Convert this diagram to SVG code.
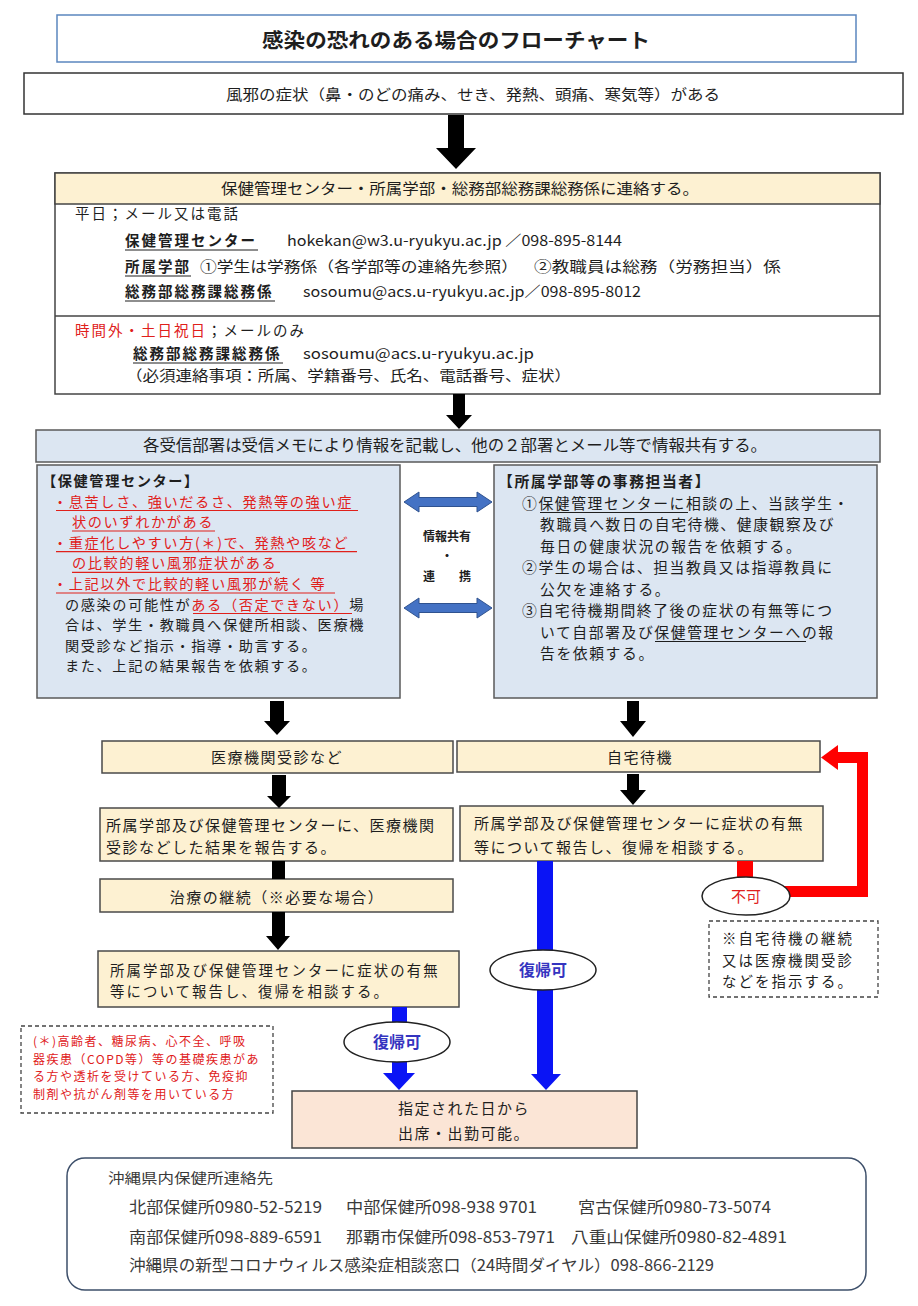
<svg xmlns="http://www.w3.org/2000/svg" width="918" height="1306" viewBox="0 0 918 1306">
<style>
text{font-family:"Noto Sans CJK JP","Noto Sans",sans-serif;fill:#1e1e1e}
.b{font-weight:bold}
.r{fill:#e0201b}
.tan{fill:#fdf1d2;stroke:#4a4a4a;stroke-width:1.5}
.blu{fill:#dce6f2;stroke:#5a5a5a;stroke-width:1.5}
.ul{stroke:#1e1e1e;stroke-width:1.2}
.ulr{stroke:#e0201b;stroke-width:1.2}
.blk{fill:#000}
.dbl{fill:#4472c4;stroke:#2f528f;stroke-width:1}
.bl{fill:#0a14f5}
.rd{fill:#ff0000}
.ell{fill:#fff;stroke:#222;stroke-width:1.5}
.dash{fill:#fff;stroke:#444;stroke-width:1.3;stroke-dasharray:4 3}
.c15{font-size:14.5px;letter-spacing:2px}
.f16{font-size:14.2px;letter-spacing:1.6px}
.f164{font-size:14.8px;letter-spacing:1.6px}
.f165{font-size:15px;letter-spacing:1.5px}
.f145{font-size:14.4px;letter-spacing:2.1px}
.bot{fill:#3a3a3a}
</style>

<g id="title">
<rect x="57" y="15" width="799" height="47" fill="#fff" stroke="#5b86bf" stroke-width="1.5"/>
<text x="456" y="48" text-anchor="middle" class="b" font-size="20" textLength="388" lengthAdjust="spacingAndGlyphs">感染の恐れのある場合のフローチャート</text>
</g>

<g id="symptoms">
<rect x="24" y="73" width="879" height="41" fill="#fff" stroke="#333" stroke-width="1.5"/>
<text x="226" y="100" font-size="14.5" textLength="494" lengthAdjust="spacingAndGlyphs">風邪の症状（鼻・のどの痛み、せき、発熱、頭痛、寒気等）がある</text>
</g>

<g id="contact">
<rect x="55" y="173" width="825" height="221" fill="#fff" stroke="#444" stroke-width="1.5"/>
<rect x="55" y="173" width="825" height="31" fill="#fdf1d2" stroke="#444" stroke-width="1.5"/>
<line x1="55" y1="316" x2="880" y2="316" stroke="#444" stroke-width="1.5"/>
<text x="221" y="194" font-size="15" textLength="478" lengthAdjust="spacingAndGlyphs">保健管理センター・所属学部・総務部総務課総務係に連絡する。</text>
<text x="75" y="219" class="c15">平日；メール又は電話</text>
<text x="125" y="246" class="c15 b">保健管理センター</text>
<line x1="125" y1="250" x2="258" y2="250" class="ul"/>
<text x="287" y="246" font-size="14.5" textLength="335" lengthAdjust="spacingAndGlyphs">hokekan@w3.u-ryukyu.ac.jp ／098-895-8144</text>
<text x="125" y="272" class="c15 b">所属学部</text>
<line x1="125" y1="276" x2="191" y2="276" class="ul"/>
<text x="200" y="272" font-size="14.5" textLength="318" lengthAdjust="spacingAndGlyphs">①学生は学務係（各学部等の連絡先参照）</text>
<text x="534" y="272" font-size="14.5" textLength="247" lengthAdjust="spacingAndGlyphs">②教職員は総務（労務担当）係</text>
<text x="125" y="297" class="c15 b">総務部総務課総務係</text>
<line x1="125" y1="301" x2="275" y2="301" class="ul"/>
<text x="303" y="297" font-size="14.5" textLength="338" lengthAdjust="spacingAndGlyphs">sosoumu@acs.u-ryukyu.ac.jp／098-895-8012</text>
<text x="75" y="336" class="c15"><tspan class="r">時間外・土日祝日</tspan>；メールのみ</text>
<text x="133" y="359" class="c15 b">総務部総務課総務係</text>
<line x1="133" y1="363" x2="283" y2="363" class="ul"/>
<text x="303" y="359" font-size="14.5" textLength="231" lengthAdjust="spacingAndGlyphs">sosoumu@acs.u-ryukyu.ac.jp</text>
<text x="126" y="381" font-size="14.5" textLength="445" lengthAdjust="spacingAndGlyphs">（必須連絡事項：所属、学籍番号、氏名、電話番号、症状）</text>
</g>

<g id="share">
<rect x="36" y="430" width="844" height="32" class="blu"/>
<text x="143" y="451" font-size="15.5" textLength="624" lengthAdjust="spacingAndGlyphs">各受信部署は受信メモにより情報を記載し、他の２部署とメール等で情報共有する。</text>
</g>

<g id="health-center">
<rect x="37" y="465" width="363" height="233" class="blu"/>
<text x="42" y="486" class="f16 b">【保健管理センター】</text>
<text x="53" y="506.6" class="f16 r">・息苦しさ、強いだるさ、発熱等の強い症</text>
<line x1="56" y1="510.5" x2="358" y2="510.5" class="ulr"/>
<text x="72" y="527.2" class="f16 r">状のいずれかがある</text>
<line x1="72" y1="531" x2="215" y2="531" class="ulr"/>
<text x="53" y="547.8" class="f16 r">・重症化しやすい方(＊)で、発熱や咳など</text>
<line x1="56" y1="551.7" x2="357" y2="551.7" class="ulr"/>
<text x="72" y="568.4" class="f16 r">の比較的軽い風邪症状がある</text>
<line x1="72" y1="572.3" x2="280" y2="572.3" class="ulr"/>
<text x="53" y="589" class="f16 r">・上記以外で比較的軽い風邪が続く 等</text>
<line x1="56" y1="593" x2="335" y2="593" class="ulr"/>
<text x="65" y="609.6" class="f16">の感染の可能性が<tspan class="r">ある（否定できない）</tspan>場</text>
<line x1="193" y1="613.5" x2="352" y2="613.5" class="ulr"/>
<text x="65" y="630.2" class="f16">合は、学生・教職員へ保健所相談、医療機</text>
<text x="65" y="650.8" class="f16">関受診など指示・指導・助言する。</text>
<text x="65" y="671.4" class="f16">また、上記の結果報告を依頼する。</text>
</g>

<g id="faculty">
<rect x="494" y="465" width="383" height="233" class="blu"/>
<text x="498" y="487" class="f164 b">【所属学部等の事務担当者】</text>
<text x="522" y="508.5" class="f164">①保健管理センターに相談の上、当該学生・</text>
<line x1="540" y1="512.5" x2="688" y2="512.5" class="ul"/>
<text x="540" y="530" class="f164">教職員へ数日の自宅待機、健康観察及び</text>
<text x="540" y="551.5" class="f164">毎日の健康状況の報告を依頼する。</text>
<text x="522" y="573" class="f164">②学生の場合は、担当教員又は指導教員に</text>
<text x="540" y="594.5" class="f164">公欠を連絡する。</text>
<text x="522" y="616" class="f164">③自宅待機期間終了後の症状の有無等につ</text>
<text x="540" y="637.5" class="f164">いて自部署及び保健管理センターへの報</text>
<line x1="655" y1="641.5" x2="806" y2="641.5" class="ul"/>
<text x="540" y="659" class="f164">告を依頼する。</text>
</g>

<g id="share-label">
<text x="447" y="541" text-anchor="middle" class="b" font-size="12">情報共有</text>
<text x="447" y="561" text-anchor="middle" class="b" font-size="12">・</text>
<text x="423" y="581" class="b" font-size="12">連　　携</text>
</g>

<g id="medical">
<rect x="102" y="741" width="351" height="32" class="tan"/>
<text x="277" y="763" text-anchor="middle" class="f165">医療機関受診など</text>
</g>
<g id="home">
<rect x="457" y="741" width="363" height="31" class="tan"/>
<text x="640" y="763" text-anchor="middle" class="f165">自宅待機</text>
</g>
<g id="report-medical">
<rect x="100" y="808" width="353" height="53" class="tan"/>
<text x="106" y="831" class="f165">所属学部及び保健管理センターに、医療機関</text>
<text x="106" y="853" class="f165">受診などした結果を報告する。</text>
</g>
<g id="report-home">
<rect x="460" y="806" width="363" height="55" class="tan"/>
<text x="474" y="829" class="f165">所属学部及び保健管理センターに症状の有無</text>
<text x="474" y="853" class="f165">等について報告し、復帰を相談する。</text>
</g>
<g id="treatment">
<rect x="100" y="879" width="353" height="33" class="tan"/>
<text x="277" y="903" text-anchor="middle" class="f165">治療の継続（※必要な場合）</text>
</g>
<g id="report-return">
<rect x="98" y="951" width="361" height="56" class="tan"/>
<text x="110" y="975.5" class="f145">所属学部及び保健管理センターに症状の有無</text>
<text x="110" y="997" class="f145">等について報告し、復帰を相談する。</text>
</g>
<g id="attend">
<rect x="292" y="1091" width="345" height="57" fill="#fbe5d6" stroke="#444" stroke-width="1.5"/>
<text x="398" y="1114" class="f165">指定された日から</text>
<text x="398" y="1139" class="f165">出席・出勤可能。</text>
</g>

<g id="note-home">
<rect x="709" y="921" width="169" height="76" class="dash"/>
<text x="722" y="944" class="f145">※自宅待機の継続</text>
<text x="722" y="965.5" class="f145">又は医療機関受診</text>
<text x="722" y="987" class="f145">などを指示する。</text>
</g>
<g id="note-risk">
<rect x="21" y="1026" width="252" height="87" class="dash"/>
<text x="33" y="1046" class="r" font-size="12" letter-spacing="1.5">(＊)高齢者、糖尿病、心不全、呼吸</text>
<text x="33" y="1063.5" class="r" font-size="12" letter-spacing="1.5">器疾患（COPD等）等の基礎疾患があ</text>
<text x="33" y="1081" class="r" font-size="12" letter-spacing="1.5">る方や透析を受けている方、免疫抑</text>
<text x="33" y="1098.5" class="r" font-size="12" letter-spacing="1.5">制剤や抗がん剤等を用いている方</text>
</g>

<g id="connectors">
<polygon class="blk" points="448,115 464,115 464,148 476,148 456,169 436,148 448,148"/>
<polygon class="blk" points="453,394 465,394 465,415 472,415 459,429 446,415 453,415"/>
<polygon class="blk" points="270,701 284,701 284,721 290,721 277,735 264,721 270,721"/>
<polygon class="blk" points="627,701 639,701 639,721 646,721 633,737 620,721 627,721"/>
<polygon class="blk" points="272,775 286,775 286,796 291,796 279,808 267,796 272,796"/>
<polygon class="blk" points="627,774 639,774 639,790 646,790 633,805 620,790 627,790"/>
<rect class="blk" x="272" y="861" width="13" height="18"/>
<polygon class="blk" points="272,912 285,912 285,936 290,936 278,950 266,936 272,936"/>
<polygon class="dbl" points="404,502 419,492 419,497.5 477,497.5 477,492 492,502 477,512 477,506.5 419,506.5 419,512"/>
<polygon class="dbl" points="404,608 419,598 419,603.5 477,603.5 477,598 492,608 477,618 477,612.5 419,612.5 419,618"/>
<rect class="bl" x="537" y="861" width="16" height="214"/>
<polygon class="bl" points="531,1074 561,1074 546,1090"/>
<rect class="bl" x="392" y="1007" width="15" height="67"/>
<polygon class="bl" points="383,1073 415,1073 399,1090"/>
<rect class="rd" x="737" y="861" width="16" height="20"/>
<rect class="rd" x="780" y="886" width="88" height="11"/>
<rect class="rd" x="857" y="752" width="11" height="145"/>
<rect class="rd" x="836" y="752" width="32" height="11"/>
<polygon class="rd" points="821,757.5 838,745 838,770"/>
<ellipse class="ell" cx="543" cy="970" rx="53" ry="20"/>
<text x="543" y="976" text-anchor="middle" class="b" font-size="16" style="fill:#3434c0">復帰可</text>
<ellipse class="ell" cx="397" cy="1042" rx="53" ry="20"/>
<text x="397" y="1048" text-anchor="middle" class="b" font-size="16" style="fill:#3434c0">復帰可</text>
<ellipse class="ell" cx="746" cy="896" rx="44" ry="19"/>
<text x="746" y="902" text-anchor="middle" font-size="15" style="fill:#e02020">不可</text>
</g>

<g id="contacts">
<rect x="67" y="1158" width="799" height="132" rx="18" fill="#fff" stroke="#3d4f6a" stroke-width="1.5"/>
<text x="108" y="1183" class="bot" font-size="14" textLength="165" lengthAdjust="spacingAndGlyphs">沖縄県内保健所連絡先</text>
<text x="129" y="1213" class="bot" font-size="16" textLength="193" lengthAdjust="spacingAndGlyphs">北部保健所0980-52-5219</text>
<text x="346" y="1213" class="bot" font-size="16" textLength="191" lengthAdjust="spacingAndGlyphs">中部保健所098-938 9701</text>
<text x="578" y="1213" class="bot" font-size="16" textLength="193" lengthAdjust="spacingAndGlyphs">宮古保健所0980-73-5074</text>
<text x="129" y="1243" class="bot" font-size="16" textLength="193" lengthAdjust="spacingAndGlyphs">南部保健所098-889-6591</text>
<text x="346" y="1243" class="bot" font-size="16" textLength="209" lengthAdjust="spacingAndGlyphs">那覇市保健所098-853-7971</text>
<text x="571" y="1243" class="bot" font-size="16" textLength="216" lengthAdjust="spacingAndGlyphs">八重山保健所0980-82-4891</text>
<text x="129" y="1271" class="bot" font-size="16" textLength="585" lengthAdjust="spacingAndGlyphs">沖縄県の新型コロナウィルス感染症相談窓口（24時間ダイヤル）098-866-2129</text>
</g>
</svg>
